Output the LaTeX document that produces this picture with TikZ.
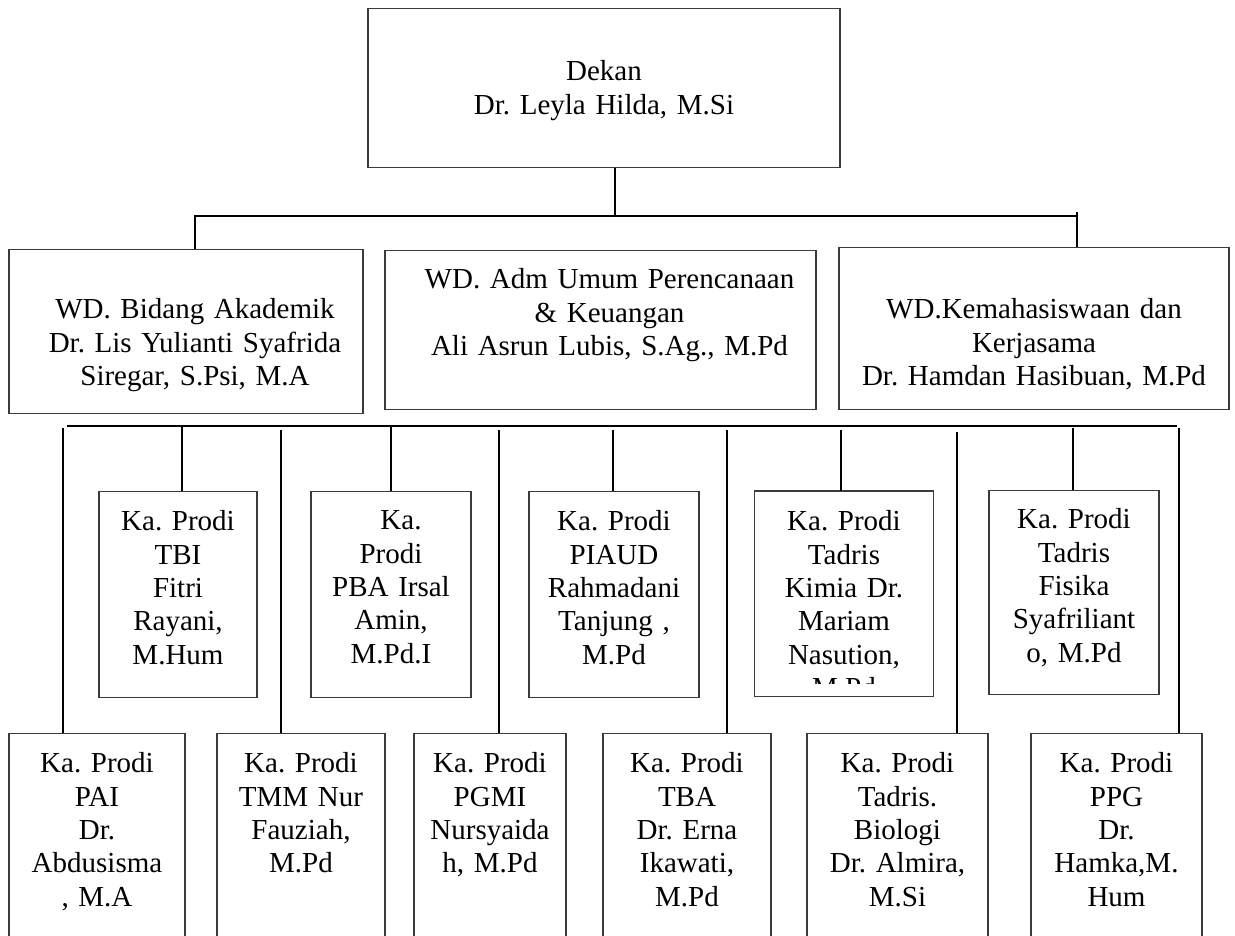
\documentclass[tikz,border=0pt]{standalone}
\usepackage{fontspec}
\setmainfont{Liberation Serif}
\usepackage{tikz}
\usetikzlibrary{positioning,calc}
\definecolor{orgInk}{HTML}{000000}
\definecolor{orgFrame}{HTML}{3A3A3A}
\newcommand{\orgfont}{\fontsize{29pt}{33.4pt}\selectfont\frenchspacing}
\tikzset{
  orgframe/.style={draw=orgFrame,line width=1.2pt},
  orgbox/.style={rectangle,orgframe,inner sep=0pt,align=center,font=\orgfont,text=orgInk,anchor=north},
  orgsize/.style n args={3}{text width=#1,text height=#2,text depth=#3},
  orgline/.style={draw=orgInk,line width=2pt}
}
\begin{document}
\begin{tikzpicture}[x=1pt,y=-1pt]
\useasboundingbox (0,0) rectangle (1235,935);
\clip (0,0) rectangle (1235,935);

% ---- DEKAN ----
\node[orgbox, orgsize={472pt}{72pt}{87pt}] (dekan) at (604,8) {Dekan\\ Dr. Leyla Hilda, M.Si};

% ---- WAKIL DEKAN ----
\node[orgbox, orgsize={354pt}{69pt}{95pt}] (wd1) at (186,249) {\hspace*{18pt}WD. Bidang Akademik\\ \hspace*{18pt}Dr. Lis Yulianti Syafrida\\ \hspace*{18pt}Siregar, S.Psi, M.A};
\node[orgbox, orgsize={431pt}{38pt}{121pt}] (wd2) at (600.5,250) {\hspace*{18pt}WD. Adm Umum Perencanaan\\ \hspace*{18pt}\& Keuangan\\ \hspace*{18pt}Ali Asrun Lubis, S.Ag., M.Pd};
\node[orgbox, orgsize={390pt}{71pt}{91pt}] (wd3) at (1034,247) {WD.Kemahasiswaan dan\\ Kerjasama\\ Dr. Hamdan Hasibuan, M.Pd};

\coordinate (jDekan) at (615,216);
\coordinate (jLeft) at (195,216);
\coordinate (jRight) at (1077,212);
\draw[orgline] (dekan.south -| jDekan) -- (jDekan);
\draw[orgline] (wd1.north -| jLeft) -- (jLeft) -- (jDekan -| jRight);
\draw[orgline] (jRight) -- (wd3.north -| jRight);

% ---- PRODI, BARIS ATAS ----
\node[orgbox, orgsize={158pt}{39pt}{167pt}] (tbi) at (178,491) {Ka. Prodi\\ TBI\\ Fitri\\ Rayani,\\ M.Hum};
\node[orgbox, orgsize={160pt}{38pt}{168pt}] (pba) at (391,491) {\hspace*{20pt}Ka.\\ Prodi\\ PBA Irsal\\ Amin,\\ M.Pd.I};
\node[orgbox, orgsize={170pt}{39pt}{167pt}] (piaud) at (614,491) {Ka. Prodi\\ PIAUD\\ Rahmadani\\ Tanjung ,\\ M.Pd};
\begin{scope}
  \clip (700,480) rectangle (1000,683);
  \node[orgbox, draw=none, orgsize={178pt}{39pt}{165pt}] (kimia) at (844,491) {Ka. Prodi\\ Tadris\\ Kimia Dr.\\ Mariam\\ Nasution,\\ M.Pd};
\end{scope}
\draw[orgframe] (kimia.south west) rectangle (kimia.north east);
\node[orgbox, orgsize={170pt}{38pt}{166pt}] (fisika) at (1074,490) {Ka. Prodi\\ Tadris\\ Fisika\\ Syafriliant\\ o, M.Pd};

% ---- PRODI, BARIS BAWAH ----
\node[orgbox, orgsize={176pt}{39pt}{191pt}] (pai) at (97,733) {Ka. Prodi\\ PAI\\ Dr.\\ Abdusisma\\ , M.A};
\node[orgbox, orgsize={168pt}{39pt}{191pt}] (tmm) at (301,733) {Ka. Prodi\\ TMM Nur\\ Fauziah,\\ M.Pd};
\node[orgbox, orgsize={152pt}{39pt}{191pt}] (pgmi) at (490,733) {Ka. Prodi\\ PGMI\\ Nursyaida\\ h, M.Pd};
\node[orgbox, orgsize={168pt}{39pt}{191pt}] (tba) at (687,733) {Ka. Prodi\\ TBA\\ Dr. Erna\\ Ikawati,\\ M.Pd};
\node[orgbox, orgsize={181pt}{39pt}{191pt}] (biologi) at (897.5,733) {Ka. Prodi\\ Tadris.\\ Biologi\\ Dr. Almira,\\ M.Si};
\node[orgbox, orgsize={171pt}{39pt}{191pt}] (ppg) at (1116.5,733) {Ka. Prodi\\ PPG\\ Dr.\\ Hamka,M.\\ Hum};

% ---- GARIS PRODI ----
\coordinate (busStart) at (67,426);
\coordinate (busEnd) at (1177,426);
\draw[orgline] (busStart) -- (busEnd);

\coordinate (dPai) at (63,428);
\coordinate (dTbi) at (182,426);
\coordinate (dTmm) at (281,430);
\coordinate (dPba) at (391,426);
\coordinate (dPgmi) at (499,430);
\coordinate (dPiaud) at (613,430);
\coordinate (dTba) at (727,430);
\coordinate (dKimia) at (841,430);
\coordinate (dBiologi) at (957,432);
\coordinate (dFisika) at (1073,428);
\coordinate (dPpg) at (1179,428);

\draw[orgline] (dPai) -- (pai.north -| dPai);
\draw[orgline] (dTbi) -- (tbi.north -| dTbi);
\draw[orgline] (dTmm) -- (tmm.north -| dTmm);
\draw[orgline] (dPba) -- (pba.north -| dPba);
\draw[orgline] (dPgmi) -- (pgmi.north -| dPgmi);
\draw[orgline] (dPiaud) -- (piaud.north -| dPiaud);
\draw[orgline] (dTba) -- (tba.north -| dTba);
\draw[orgline] (dKimia) -- (kimia.north -| dKimia);
\draw[orgline] (dBiologi) -- (biologi.north -| dBiologi);
\draw[orgline] (dFisika) -- (fisika.north -| dFisika);
\draw[orgline] (dPpg) -- (ppg.north -| dPpg);

\end{tikzpicture}
\end{document}
